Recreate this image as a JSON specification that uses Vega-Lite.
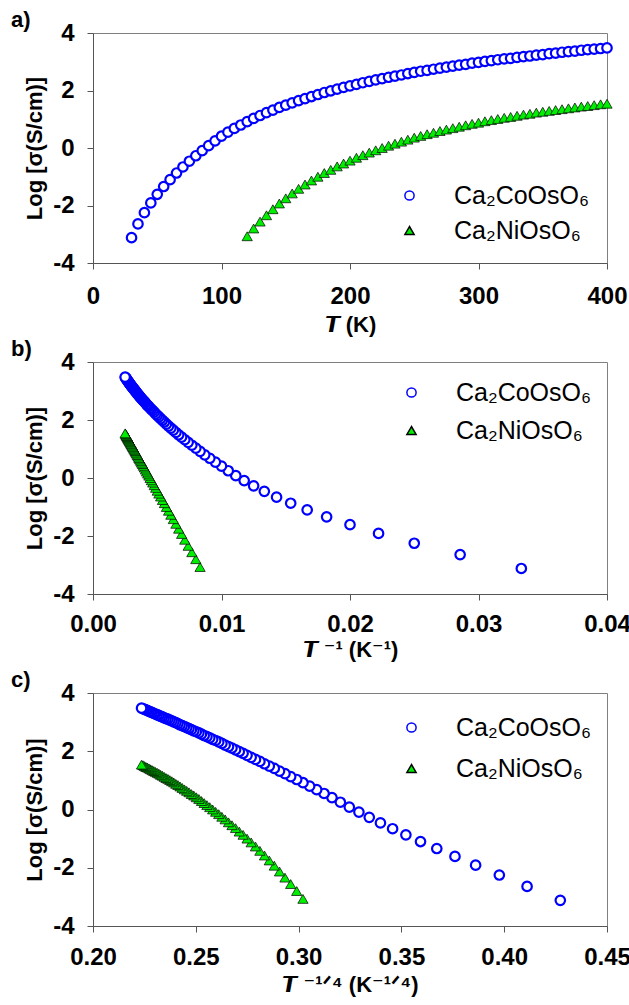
{
"$schema":"https://vega.github.io/schema/vega-lite/v6.json",
"padding":{"left":10,"top":8,"right":4,"bottom":4},
"background":"white",
"data":{"values":[
{"series":"Ca₂CoOsO₆","T":30,"inv":0.033333,"q":0.42729,"y":-3.12},
{"series":"Ca₂CoOsO₆","T":35,"inv":0.028571,"q":0.41113,"y":-2.64},
{"series":"Ca₂CoOsO₆","T":40,"inv":0.025,"q":0.39763,"y":-2.25},
{"series":"Ca₂CoOsO₆","T":45,"inv":0.022222,"q":0.3861,"y":-1.91},
{"series":"Ca₂CoOsO₆","T":50,"inv":0.02,"q":0.37606,"y":-1.61},
{"series":"Ca₂CoOsO₆","T":55,"inv":0.018182,"q":0.36721,"y":-1.34},
{"series":"Ca₂CoOsO₆","T":60,"inv":0.016667,"q":0.3593,"y":-1.1},
{"series":"Ca₂CoOsO₆","T":65,"inv":0.015385,"q":0.35218,"y":-0.87},
{"series":"Ca₂CoOsO₆","T":70,"inv":0.014286,"q":0.34572,"y":-0.66},
{"series":"Ca₂CoOsO₆","T":75,"inv":0.013333,"q":0.33981,"y":-0.46},
{"series":"Ca₂CoOsO₆","T":80,"inv":0.0125,"q":0.33437,"y":-0.27},
{"series":"Ca₂CoOsO₆","T":85,"inv":0.011765,"q":0.32934,"y":-0.09},
{"series":"Ca₂CoOsO₆","T":90,"inv":0.011111,"q":0.32467,"y":0.08},
{"series":"Ca₂CoOsO₆","T":95,"inv":0.010526,"q":0.32031,"y":0.25},
{"series":"Ca₂CoOsO₆","T":100,"inv":0.01,"q":0.31623,"y":0.41},
{"series":"Ca₂CoOsO₆","T":105,"inv":0.009524,"q":0.31239,"y":0.55},
{"series":"Ca₂CoOsO₆","T":110,"inv":0.009091,"q":0.30878,"y":0.68},
{"series":"Ca₂CoOsO₆","T":115,"inv":0.008696,"q":0.30537,"y":0.8},
{"series":"Ca₂CoOsO₆","T":120,"inv":0.008333,"q":0.30213,"y":0.92},
{"series":"Ca₂CoOsO₆","T":125,"inv":0.008,"q":0.29907,"y":1.03},
{"series":"Ca₂CoOsO₆","T":130,"inv":0.007692,"q":0.29615,"y":1.13},
{"series":"Ca₂CoOsO₆","T":135,"inv":0.007407,"q":0.29337,"y":1.23},
{"series":"Ca₂CoOsO₆","T":140,"inv":0.007143,"q":0.29072,"y":1.32},
{"series":"Ca₂CoOsO₆","T":145,"inv":0.006897,"q":0.28818,"y":1.41},
{"series":"Ca₂CoOsO₆","T":150,"inv":0.006667,"q":0.28575,"y":1.49},
{"series":"Ca₂CoOsO₆","T":155,"inv":0.006452,"q":0.28341,"y":1.57},
{"series":"Ca₂CoOsO₆","T":160,"inv":0.00625,"q":0.28117,"y":1.65},
{"series":"Ca₂CoOsO₆","T":165,"inv":0.006061,"q":0.27902,"y":1.72},
{"series":"Ca₂CoOsO₆","T":170,"inv":0.005882,"q":0.27694,"y":1.79},
{"series":"Ca₂CoOsO₆","T":175,"inv":0.005714,"q":0.27494,"y":1.86},
{"series":"Ca₂CoOsO₆","T":180,"inv":0.005556,"q":0.27301,"y":1.93},
{"series":"Ca₂CoOsO₆","T":185,"inv":0.005405,"q":0.27115,"y":1.99},
{"series":"Ca₂CoOsO₆","T":190,"inv":0.005263,"q":0.26934,"y":2.05},
{"series":"Ca₂CoOsO₆","T":195,"inv":0.005128,"q":0.2676,"y":2.11},
{"series":"Ca₂CoOsO₆","T":200,"inv":0.005,"q":0.26591,"y":2.16},
{"series":"Ca₂CoOsO₆","T":205,"inv":0.004878,"q":0.26428,"y":2.21},
{"series":"Ca₂CoOsO₆","T":210,"inv":0.004762,"q":0.26269,"y":2.27},
{"series":"Ca₂CoOsO₆","T":215,"inv":0.004651,"q":0.26115,"y":2.32},
{"series":"Ca₂CoOsO₆","T":220,"inv":0.004545,"q":0.25965,"y":2.37},
{"series":"Ca₂CoOsO₆","T":225,"inv":0.004444,"q":0.2582,"y":2.41},
{"series":"Ca₂CoOsO₆","T":230,"inv":0.004348,"q":0.25679,"y":2.46},
{"series":"Ca₂CoOsO₆","T":235,"inv":0.004255,"q":0.25541,"y":2.5},
{"series":"Ca₂CoOsO₆","T":240,"inv":0.004167,"q":0.25407,"y":2.54},
{"series":"Ca₂CoOsO₆","T":245,"inv":0.004082,"q":0.25276,"y":2.59},
{"series":"Ca₂CoOsO₆","T":250,"inv":0.004,"q":0.25149,"y":2.63},
{"series":"Ca₂CoOsO₆","T":255,"inv":0.003922,"q":0.25024,"y":2.67},
{"series":"Ca₂CoOsO₆","T":260,"inv":0.003846,"q":0.24903,"y":2.7},
{"series":"Ca₂CoOsO₆","T":265,"inv":0.003774,"q":0.24785,"y":2.74},
{"series":"Ca₂CoOsO₆","T":270,"inv":0.003704,"q":0.2467,"y":2.78},
{"series":"Ca₂CoOsO₆","T":275,"inv":0.003636,"q":0.24557,"y":2.81},
{"series":"Ca₂CoOsO₆","T":280,"inv":0.003571,"q":0.24446,"y":2.85},
{"series":"Ca₂CoOsO₆","T":285,"inv":0.003509,"q":0.24338,"y":2.88},
{"series":"Ca₂CoOsO₆","T":290,"inv":0.003448,"q":0.24232,"y":2.91},
{"series":"Ca₂CoOsO₆","T":295,"inv":0.00339,"q":0.24129,"y":2.95},
{"series":"Ca₂CoOsO₆","T":300,"inv":0.003333,"q":0.24028,"y":2.98},
{"series":"Ca₂CoOsO₆","T":305,"inv":0.003279,"q":0.23929,"y":3.01},
{"series":"Ca₂CoOsO₆","T":310,"inv":0.003226,"q":0.23832,"y":3.04},
{"series":"Ca₂CoOsO₆","T":315,"inv":0.003175,"q":0.23737,"y":3.07},
{"series":"Ca₂CoOsO₆","T":320,"inv":0.003125,"q":0.23644,"y":3.1},
{"series":"Ca₂CoOsO₆","T":325,"inv":0.003077,"q":0.23552,"y":3.12},
{"series":"Ca₂CoOsO₆","T":330,"inv":0.00303,"q":0.23463,"y":3.15},
{"series":"Ca₂CoOsO₆","T":335,"inv":0.002985,"q":0.23374,"y":3.18},
{"series":"Ca₂CoOsO₆","T":340,"inv":0.002941,"q":0.23288,"y":3.2},
{"series":"Ca₂CoOsO₆","T":345,"inv":0.002899,"q":0.23203,"y":3.23},
{"series":"Ca₂CoOsO₆","T":350,"inv":0.002857,"q":0.2312,"y":3.25},
{"series":"Ca₂CoOsO₆","T":355,"inv":0.002817,"q":0.23038,"y":3.28},
{"series":"Ca₂CoOsO₆","T":360,"inv":0.002778,"q":0.22957,"y":3.3},
{"series":"Ca₂CoOsO₆","T":365,"inv":0.00274,"q":0.22878,"y":3.33},
{"series":"Ca₂CoOsO₆","T":370,"inv":0.002703,"q":0.22801,"y":3.35},
{"series":"Ca₂CoOsO₆","T":375,"inv":0.002667,"q":0.22724,"y":3.37},
{"series":"Ca₂CoOsO₆","T":380,"inv":0.002632,"q":0.22649,"y":3.4},
{"series":"Ca₂CoOsO₆","T":385,"inv":0.002597,"q":0.22575,"y":3.42},
{"series":"Ca₂CoOsO₆","T":390,"inv":0.002564,"q":0.22503,"y":3.44},
{"series":"Ca₂CoOsO₆","T":395,"inv":0.002532,"q":0.22431,"y":3.46},
{"series":"Ca₂CoOsO₆","T":400,"inv":0.0025,"q":0.22361,"y":3.48},
{"series":"Ca₂NiOsO₆","T":120,"inv":0.008333,"q":0.30213,"y":-3.07},
{"series":"Ca₂NiOsO₆","T":125,"inv":0.008,"q":0.29907,"y":-2.8},
{"series":"Ca₂NiOsO₆","T":130,"inv":0.007692,"q":0.29615,"y":-2.56},
{"series":"Ca₂NiOsO₆","T":135,"inv":0.007407,"q":0.29337,"y":-2.34},
{"series":"Ca₂NiOsO₆","T":140,"inv":0.007143,"q":0.29072,"y":-2.13},
{"series":"Ca₂NiOsO₆","T":145,"inv":0.006897,"q":0.28818,"y":-1.93},
{"series":"Ca₂NiOsO₆","T":150,"inv":0.006667,"q":0.28575,"y":-1.75},
{"series":"Ca₂NiOsO₆","T":155,"inv":0.006452,"q":0.28341,"y":-1.58},
{"series":"Ca₂NiOsO₆","T":160,"inv":0.00625,"q":0.28117,"y":-1.42},
{"series":"Ca₂NiOsO₆","T":165,"inv":0.006061,"q":0.27902,"y":-1.27},
{"series":"Ca₂NiOsO₆","T":170,"inv":0.005882,"q":0.27694,"y":-1.13},
{"series":"Ca₂NiOsO₆","T":175,"inv":0.005714,"q":0.27494,"y":-1.0},
{"series":"Ca₂NiOsO₆","T":180,"inv":0.005556,"q":0.27301,"y":-0.87},
{"series":"Ca₂NiOsO₆","T":185,"inv":0.005405,"q":0.27115,"y":-0.76},
{"series":"Ca₂NiOsO₆","T":190,"inv":0.005263,"q":0.26934,"y":-0.64},
{"series":"Ca₂NiOsO₆","T":195,"inv":0.005128,"q":0.2676,"y":-0.54},
{"series":"Ca₂NiOsO₆","T":200,"inv":0.005,"q":0.26591,"y":-0.44},
{"series":"Ca₂NiOsO₆","T":205,"inv":0.004878,"q":0.26428,"y":-0.34},
{"series":"Ca₂NiOsO₆","T":210,"inv":0.004762,"q":0.26269,"y":-0.25},
{"series":"Ca₂NiOsO₆","T":215,"inv":0.004651,"q":0.26115,"y":-0.16},
{"series":"Ca₂NiOsO₆","T":220,"inv":0.004545,"q":0.25965,"y":-0.08},
{"series":"Ca₂NiOsO₆","T":225,"inv":0.004444,"q":0.2582,"y":0.0},
{"series":"Ca₂NiOsO₆","T":230,"inv":0.004348,"q":0.25679,"y":0.08},
{"series":"Ca₂NiOsO₆","T":235,"inv":0.004255,"q":0.25541,"y":0.15},
{"series":"Ca₂NiOsO₆","T":240,"inv":0.004167,"q":0.25407,"y":0.22},
{"series":"Ca₂NiOsO₆","T":245,"inv":0.004082,"q":0.25276,"y":0.29},
{"series":"Ca₂NiOsO₆","T":250,"inv":0.004,"q":0.25149,"y":0.36},
{"series":"Ca₂NiOsO₆","T":255,"inv":0.003922,"q":0.25024,"y":0.42},
{"series":"Ca₂NiOsO₆","T":260,"inv":0.003846,"q":0.24903,"y":0.48},
{"series":"Ca₂NiOsO₆","T":265,"inv":0.003774,"q":0.24785,"y":0.53},
{"series":"Ca₂NiOsO₆","T":270,"inv":0.003704,"q":0.2467,"y":0.59},
{"series":"Ca₂NiOsO₆","T":275,"inv":0.003636,"q":0.24557,"y":0.64},
{"series":"Ca₂NiOsO₆","T":280,"inv":0.003571,"q":0.24446,"y":0.69},
{"series":"Ca₂NiOsO₆","T":285,"inv":0.003509,"q":0.24338,"y":0.74},
{"series":"Ca₂NiOsO₆","T":290,"inv":0.003448,"q":0.24232,"y":0.79},
{"series":"Ca₂NiOsO₆","T":295,"inv":0.00339,"q":0.24129,"y":0.84},
{"series":"Ca₂NiOsO₆","T":300,"inv":0.003333,"q":0.24028,"y":0.88},
{"series":"Ca₂NiOsO₆","T":305,"inv":0.003279,"q":0.23929,"y":0.93},
{"series":"Ca₂NiOsO₆","T":310,"inv":0.003226,"q":0.23832,"y":0.97},
{"series":"Ca₂NiOsO₆","T":315,"inv":0.003175,"q":0.23737,"y":1.01},
{"series":"Ca₂NiOsO₆","T":320,"inv":0.003125,"q":0.23644,"y":1.05},
{"series":"Ca₂NiOsO₆","T":325,"inv":0.003077,"q":0.23552,"y":1.08},
{"series":"Ca₂NiOsO₆","T":330,"inv":0.00303,"q":0.23463,"y":1.12},
{"series":"Ca₂NiOsO₆","T":335,"inv":0.002985,"q":0.23374,"y":1.16},
{"series":"Ca₂NiOsO₆","T":340,"inv":0.002941,"q":0.23288,"y":1.19},
{"series":"Ca₂NiOsO₆","T":345,"inv":0.002899,"q":0.23203,"y":1.23},
{"series":"Ca₂NiOsO₆","T":350,"inv":0.002857,"q":0.2312,"y":1.26},
{"series":"Ca₂NiOsO₆","T":355,"inv":0.002817,"q":0.23038,"y":1.29},
{"series":"Ca₂NiOsO₆","T":360,"inv":0.002778,"q":0.22957,"y":1.32},
{"series":"Ca₂NiOsO₆","T":365,"inv":0.00274,"q":0.22878,"y":1.35},
{"series":"Ca₂NiOsO₆","T":370,"inv":0.002703,"q":0.22801,"y":1.38},
{"series":"Ca₂NiOsO₆","T":375,"inv":0.002667,"q":0.22724,"y":1.41},
{"series":"Ca₂NiOsO₆","T":380,"inv":0.002632,"q":0.22649,"y":1.44},
{"series":"Ca₂NiOsO₆","T":385,"inv":0.002597,"q":0.22575,"y":1.46},
{"series":"Ca₂NiOsO₆","T":390,"inv":0.002564,"q":0.22503,"y":1.49},
{"series":"Ca₂NiOsO₆","T":395,"inv":0.002532,"q":0.22431,"y":1.52},
{"series":"Ca₂NiOsO₆","T":400,"inv":0.0025,"q":0.22361,"y":1.54}
]},
"vconcat":[
{
"width":514,"height":230,
"title":{"text":"a)","anchor":"start","frame":"group","dx":-82,"offset":-11,"fontSize":22,"fontWeight":"bold","font":"Liberation Sans","color":"#000"},
"mark":{"type":"point","filled":true,"opacity":1},
"encoding":{
"x":{"field":"T","type":"quantitative","scale":{"domain":[0,400],"nice":false,"zero":false},"axis":{"values":[0,100,200,300,400],"title":"𝙏 (K)","labelPadding":15,"titlePadding":6}},
"y":{"field":"y","type":"quantitative","scale":{"domain":[-4,4],"nice":false},"axis":{"values":[-4,-2,0,2,4],"labelExpr":"'' + datum.value","title":"Log [σ(S/cm)]"}},
"shape":{"field":"series","type":"nominal","scale":{"domain":["Ca₂CoOsO₆","Ca₂NiOsO₆"],"range":["circle","triangle-up"]},"legend":{"orient":"none","legendX":304,"legendY":150,"title":null,"rowPadding":9,"encode":{"symbols":{"update":{"strokeWidth":{"signal":"datum.value === 'Ca₂CoOsO₆' ? 2.2 : 0.7"}}}}}},
"fill":{"field":"series","type":"nominal","scale":{"domain":["Ca₂CoOsO₆","Ca₂NiOsO₆"],"range":["#ffffff","#00ee00"]},"legend":{"orient":"none","legendX":304,"legendY":150,"title":null,"rowPadding":9}},
"stroke":{"field":"series","type":"nominal","scale":{"domain":["Ca₂CoOsO₆","Ca₂NiOsO₆"],"range":["#0000ff","#000000"]},"legend":{"orient":"none","legendX":304,"legendY":150,"title":null,"rowPadding":9}},
"strokeWidth":{"condition":{"test":"datum.series === 'Ca₂CoOsO₆'","value":2.2},"value":0.7},
"size":{"condition":{"test":"datum.series === 'Ca₂CoOsO₆'","value":90},"value":105}
}
},
{
"width":514,"height":232,
"title":{"text":"b)","anchor":"start","frame":"group","dx":-82,"offset":-11,"fontSize":22,"fontWeight":"bold","font":"Liberation Sans","color":"#000"},
"mark":{"type":"point","filled":true,"opacity":1},
"encoding":{
"x":{"field":"inv","type":"quantitative","scale":{"domain":[0,0.04],"nice":false,"zero":false},"axis":{"values":[0,0.01,0.02,0.03,0.04],"format":".2f","title":"𝙏 ⁻¹ (K⁻¹)","labelPadding":12,"titlePadding":3}},
"y":{"field":"y","type":"quantitative","scale":{"domain":[-4,4],"nice":false},"axis":{"values":[-4,-2,0,2,4],"labelExpr":"'' + datum.value","title":"Log [σ(S/cm)]"}},
"shape":{"field":"series","type":"nominal","scale":{"domain":["Ca₂CoOsO₆","Ca₂NiOsO₆"],"range":["circle","triangle-up"]},"legend":{"orient":"none","legendX":306,"legendY":18,"title":null,"rowPadding":12,"encode":{"symbols":{"update":{"strokeWidth":{"signal":"datum.value === 'Ca₂CoOsO₆' ? 2.2 : 0.7"}}}}}},
"fill":{"field":"series","type":"nominal","scale":{"domain":["Ca₂CoOsO₆","Ca₂NiOsO₆"],"range":["#ffffff","#00ee00"]},"legend":{"orient":"none","legendX":306,"legendY":18,"title":null,"rowPadding":12}},
"stroke":{"field":"series","type":"nominal","scale":{"domain":["Ca₂CoOsO₆","Ca₂NiOsO₆"],"range":["#0000ff","#000000"]},"legend":{"orient":"none","legendX":306,"legendY":18,"title":null,"rowPadding":12}},
"strokeWidth":{"condition":{"test":"datum.series === 'Ca₂CoOsO₆'","value":2.2},"value":0.7},
"size":{"condition":{"test":"datum.series === 'Ca₂CoOsO₆'","value":90},"value":105}
}
},
{
"width":514,"height":233,
"title":{"text":"c)","anchor":"start","frame":"group","dx":-82,"offset":-11,"fontSize":22,"fontWeight":"bold","font":"Liberation Sans","color":"#000"},
"mark":{"type":"point","filled":true,"opacity":1},
"encoding":{
"x":{"field":"q","type":"quantitative","scale":{"domain":[0.2,0.45],"nice":false,"zero":false},"axis":{"values":[0.2,0.25,0.3,0.35,0.4,0.45],"format":".2f","title":"𝙏 ⁻¹ᐟ⁴ (K⁻¹ᐟ⁴)","labelPadding":13,"titlePadding":5}},
"y":{"field":"y","type":"quantitative","scale":{"domain":[-4,4],"nice":false},"axis":{"values":[-4,-2,0,2,4],"labelExpr":"'' + datum.value","title":"Log [σ(S/cm)]"}},
"shape":{"field":"series","type":"nominal","scale":{"domain":["Ca₂CoOsO₆","Ca₂NiOsO₆"],"range":["circle","triangle-up"]},"legend":{"orient":"none","legendX":306,"legendY":22,"title":null,"rowPadding":15,"encode":{"symbols":{"update":{"strokeWidth":{"signal":"datum.value === 'Ca₂CoOsO₆' ? 2.2 : 0.7"}}}}}},
"fill":{"field":"series","type":"nominal","scale":{"domain":["Ca₂CoOsO₆","Ca₂NiOsO₆"],"range":["#ffffff","#00ee00"]},"legend":{"orient":"none","legendX":306,"legendY":22,"title":null,"rowPadding":15}},
"stroke":{"field":"series","type":"nominal","scale":{"domain":["Ca₂CoOsO₆","Ca₂NiOsO₆"],"range":["#0000ff","#000000"]},"legend":{"orient":"none","legendX":306,"legendY":22,"title":null,"rowPadding":15}},
"strokeWidth":{"condition":{"test":"datum.series === 'Ca₂CoOsO₆'","value":2.2},"value":0.7},
"size":{"condition":{"test":"datum.series === 'Ca₂CoOsO₆'","value":90},"value":105}
}
}
],
"spacing":99,
"bounds":"flush",
"resolve":{"scale":{"shape":"independent","fill":"independent","stroke":"independent","x":"independent","y":"independent"},"legend":{"shape":"independent","fill":"independent","stroke":"independent"}},
"config":{
"font":"Liberation Sans",
"view":{"stroke":"#808080","strokeWidth":1},
"axis":{"grid":false,"domainColor":"#555555","tickColor":"#555555","tickSize":6,"labelFontSize":24,"labelFontWeight":"bold","labelColor":"#000000","titleFontSize":22,"titleFontWeight":"bold","titleColor":"#000000","labelFlush":false,"labelOverlap":false,"labelFont":"Liberation Sans","titleFont":"Liberation Sans, DejaVu Sans"},
"axisY":{"labelPadding":13,"titlePadding":6},
"legend":{"padding":0,"labelFontSize":25,"labelFont":"Liberation Sans, DejaVu Sans","labelColor":"#000000","labelOffset":32,"symbolSize":85,"symbolStrokeWidth":1.5}
}
}
